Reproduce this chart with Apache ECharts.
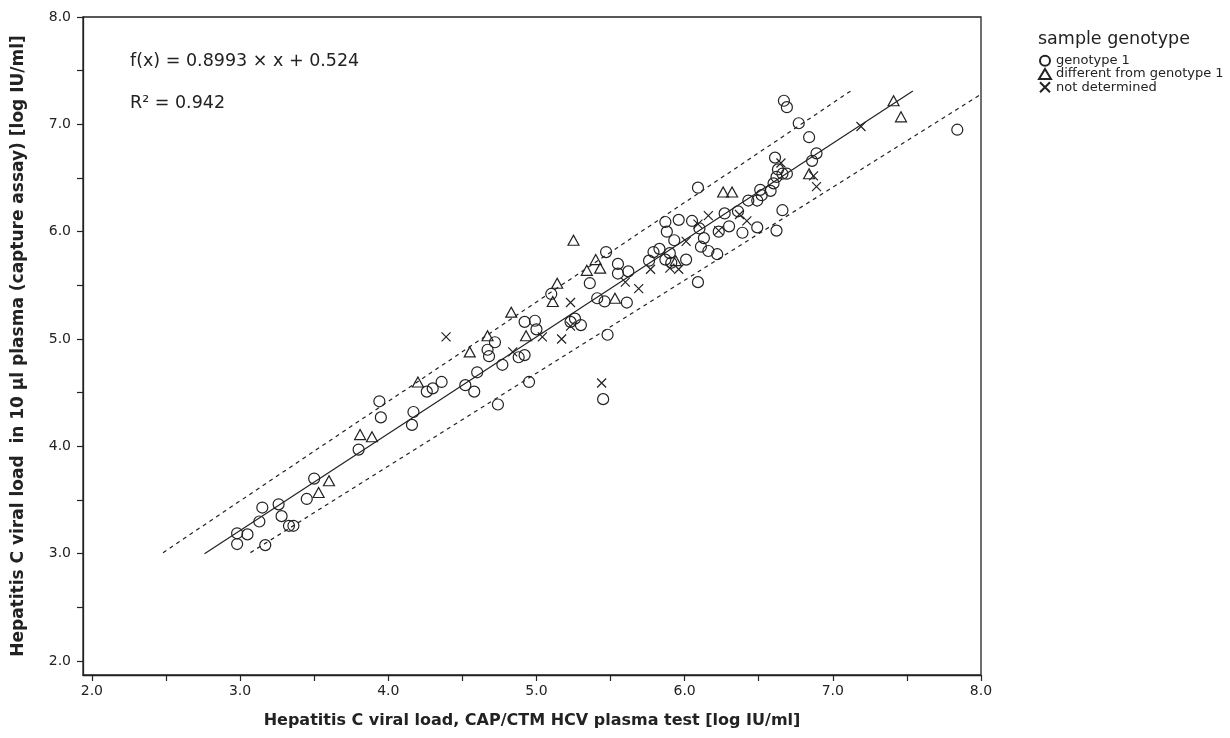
<!DOCTYPE html>
<html>
<head>
<meta charset="utf-8">
<script src="https://cdn.jsdelivr.net/npm/echarts@6/dist/echarts.min.js"></script>
<style>
  html, body { margin: 0; padding: 0; background: #fff; }
  #chart { width: 1230px; height: 738px; }
</style>
</head>
<body>
<div id="chart"></div>
<script>
// sample points, [CAP/CTM, capture assay], log IU/ml
const genotype1 = [
  [2.98, 3.19], [3.05, 3.18], [2.98, 3.09], [3.17, 3.08], [3.15, 3.43], [3.13, 3.30],
  [3.26, 3.46], [3.28, 3.35], [3.33, 3.26], [3.36, 3.26], [3.45, 3.51], [3.50, 3.70],
  [3.80, 3.97], [3.95, 4.27], [3.94, 4.42], [4.16, 4.20], [4.17, 4.32], [4.26, 4.51],
  [4.30, 4.54], [4.36, 4.60], [4.52, 4.57], [4.58, 4.51], [4.60, 4.69], [4.74, 4.39],
  [4.67, 4.90], [4.68, 4.84], [4.72, 4.97], [4.77, 4.76], [4.88, 4.83], [4.92, 4.85],
  [4.95, 4.60], [4.92, 5.16], [4.99, 5.17], [5.00, 5.09], [5.10, 5.42], [5.23, 5.16],
  [5.26, 5.19], [5.30, 5.13], [5.36, 5.52], [5.47, 5.81], [5.41, 5.38], [5.46, 5.35],
  [5.61, 5.34], [5.48, 5.04], [5.45, 4.44], [5.55, 5.70], [5.55, 5.61], [5.62, 5.63],
  [5.76, 5.73], [5.79, 5.81], [5.83, 5.84], [5.90, 5.80], [5.93, 5.92], [5.87, 5.74],
  [5.91, 5.71], [6.01, 5.74], [5.88, 6.00], [5.87, 6.09], [5.96, 6.11], [6.05, 6.10],
  [6.10, 6.03], [6.13, 5.94], [6.11, 5.86], [6.16, 5.82], [6.22, 5.79], [6.09, 5.53],
  [6.09, 6.41], [6.27, 6.17], [6.36, 6.19], [6.30, 6.05], [6.23, 6.00], [6.39, 5.99],
  [6.49, 6.04], [6.43, 6.29], [6.49, 6.29], [6.51, 6.39], [6.52, 6.34], [6.58, 6.38],
  [6.60, 6.45], [6.62, 6.51], [6.66, 6.54], [6.69, 6.54], [6.63, 6.58], [6.61, 6.69],
  [6.89, 6.73], [6.86, 6.66], [6.84, 6.88], [6.77, 7.01], [6.67, 7.22], [6.69, 7.16],
  [6.66, 6.20], [6.62, 6.01], [7.84, 6.95]
]
const otherGenotype = [
  [3.53, 3.57], [3.60, 3.68], [3.81, 4.11], [3.89, 4.09], [4.20, 4.60], [4.55, 4.88],
  [4.67, 5.03], [4.93, 5.03], [4.83, 5.25], [5.11, 5.35], [5.14, 5.52], [5.25, 5.92],
  [5.34, 5.64], [5.40, 5.74], [5.43, 5.66], [5.53, 5.38], [5.94, 5.73], [6.26, 6.37],
  [6.32, 6.37], [6.84, 6.54], [7.41, 7.22], [7.46, 7.07]
]
const notDetermined = [
  [4.39, 5.02], [4.84, 4.88], [5.04, 5.02], [5.17, 5.00], [5.23, 5.12], [5.23, 5.34],
  [5.44, 4.59], [5.60, 5.53], [5.69, 5.47], [5.77, 5.65], [5.90, 5.66], [5.96, 5.65],
  [6.01, 5.91], [6.09, 6.07], [6.16, 6.15], [6.23, 6.01], [6.42, 6.10], [6.37, 6.16],
  [6.65, 6.64], [6.89, 6.42], [6.87, 6.52], [7.19, 6.98]
]

// regression line and the two dashed bands, end points
const fitLine = [[2.76, 3.00], [7.54, 7.31]]
const upperBand = [[2.48, 3.01], [7.12, 7.31]]
const lowerBand = [[3.07, 3.01], [8.0, 7.28]]

const axisTicks = [2, 2.5, 3, 3.5, 4, 4.5, 5, 5.5, 6, 6.5, 7, 7.5, 8]
const axisLabels = [2, 3, 4, 5, 6, 7, 8]

const seriesNames = ['genotype 1', 'different from genotype 1', 'not determined']
const equationText = 'f(x) = 0.8993 × x + 0.524'
const r2Text = 'R² = 0.942'

const ink = '#222'
const fontFamily = 'DejaVu Sans'
const crossPath = 'path://M0,0L10,10M0,10L10,0'

const chart = echarts.init(document.getElementById('chart'))

function markerSeries(name, data, symbol, size) {
  return {
    name,
    type: 'scatter',
    data,
    symbol,
    symbolSize: size,
    itemStyle: {
      color: 'rgba(0,0,0,0)',
      borderColor: ink,
      borderWidth: 1.2,
      opacity: 1
    },
    emphasis: { disabled: true }
  }
}

function lineSeries(name, data, type) {
  return {
    name,
    type: 'line',
    data,
    symbol: 'none',
    silent: true,
    lineStyle: { color: ink, width: 1.2, type }
  }
}

function valueAxis(min, name, nameGap, nameSize) {
  return {
    type: 'value',
    min,
    max: 8,
    name,
    nameLocation: 'middle',
    nameGap,
    nameTextStyle: { fontFamily, fontSize: nameSize, fontWeight: 'bold', color: ink },
    axisLine: { show: true, lineStyle: { color: ink, width: 1.3 } },
    axisTick: { show: true, length: 6, customValues: axisTicks, lineStyle: { color: ink, width: 1.2 } },
    axisLabel: {
      customValues: axisLabels,
      formatter: v => v.toFixed(1),
      fontFamily,
      fontSize: 14,
      color: ink
    },
    splitLine: { show: false }
  }
}

const xAxis = valueAxis(1.94, 'Hepatitis C viral load, CAP/CTM HCV plasma test [log IU/ml]', 38, 16)
xAxis.axisLabel.margin = 9
const yAxis = valueAxis(1.87, 'Hepatitis C viral load  in 10 µl plasma (capture assay) [log IU/ml]', 56, 17)
yAxis.axisLabel.margin = 12

const textStyle = { fontFamily, fontWeight: 'normal', color: ink }

const option = {
  animation: false,
  backgroundColor: '#fff',
  title: [
    { text: 'sample genotype', left: 1038, top: 30, padding: 0, textStyle: { ...textStyle, fontSize: 17.5 } },
    { text: equationText, left: 130, top: 52, padding: 0, textStyle: { ...textStyle, fontSize: 17.5 } },
    { text: r2Text, left: 130, top: 94, padding: 0, textStyle: { ...textStyle, fontSize: 17.5 } }
  ],
  legend: {
    data: seriesNames,
    orient: 'vertical',
    left: 1038,
    top: 54,
    padding: 0,
    itemWidth: 12,
    itemHeight: 10,
    itemGap: 0,
    selectedMode: false,
    textStyle: { fontFamily, fontSize: 13, color: ink, lineHeight: 13.3 }
  },
  grid: {
    left: 83,
    right: 249,
    top: 17,
    bottom: 63,
    show: true,
    borderColor: ink,
    borderWidth: 1.3
  },
  xAxis,
  yAxis,
  series: [
    lineSeries('upper', upperBand, [4, 4]),
    lineSeries('lower', lowerBand, [4, 4]),
    lineSeries('fit', fitLine, 'solid'),
    markerSeries(seriesNames[0], genotype1, 'circle', 11),
    markerSeries(seriesNames[1], otherGenotype, 'triangle', [11, 10]),
    markerSeries(seriesNames[2], notDetermined, crossPath, 9)
  ]
}

chart.setOption(option)
</script>
</body>
</html>
